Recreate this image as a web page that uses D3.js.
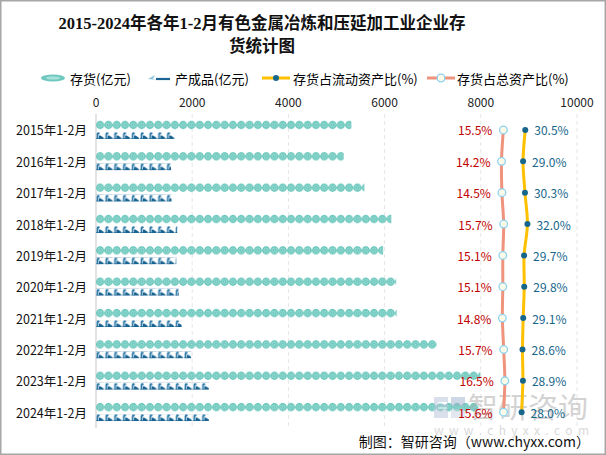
<!DOCTYPE html>
<html><head><meta charset="utf-8">
<script src="https://cdn.jsdelivr.net/npm/d3@7"></script>
<style>
html,body{margin:0;padding:0;background:#fff;}
svg{display:block;}
text{font-family:"Noto Sans CJK SC","Noto Sans",sans-serif;}
</style></head>
<body>
<script>
const categories = ["2015年1-2月","2016年1-2月","2017年1-2月","2018年1-2月","2019年1-2月","2020年1-2月","2021年1-2月","2022年1-2月","2023年1-2月","2024年1-2月"];
const inventory = [5310, 5150, 5580, 6140, 5970, 6240, 6250, 7080, 7990, 7950];
const finishedGoods = [1640, 1560, 1570, 1690, 1670, 1720, 1780, 1980, 2350, 2350];
const ratioCurrent = [30.5, 29.0, 30.3, 32.0, 29.7, 29.8, 29.1, 28.6, 28.9, 28.0];
const ratioTotal = [15.5, 14.2, 14.5, 15.7, 15.1, 15.1, 14.8, 15.7, 16.5, 15.6];
const xTicks = [0, 2000, 4000, 6000, 8000, 10000];
const legendNames = ["存货(亿元)", "产成品(亿元)", "存货占流动资产比(%)", "存货占总资产比(%)"];

(function(){
const W = 606, H = 455;
const svg = d3.select("body").append("svg").attr("width", W).attr("height", H);
svg.append("rect").attr("x",0.75).attr("y",0.75).attr("width",W-1.5).attr("height",H-1.5)
  .attr("fill","#fff").attr("stroke","#a6a6a6").attr("stroke-width",1.5);

const defs = svg.append("defs");
const cs = 8.3;
const pInv = defs.append("pattern").attr("id","pInv").attr("patternUnits","userSpaceOnUse")
  .attr("x",0).attr("y",0).attr("width",cs).attr("height",cs);
pInv.append("circle").attr("cx",cs/2).attr("cy",cs/2).attr("r",cs/2-0.1).attr("fill","#5ec2b7");
pInv.append("circle").attr("cx",cs/2).attr("cy",cs/2).attr("r",2.4).attr("fill","none").attr("stroke","#a9e1d9").attr("stroke-width",0.9);
pInv.append("circle").attr("cx",cs/2).attr("cy",cs/2).attr("r",0.9).attr("fill","#a9e1d9");
const fw = 8.8, fh = 7;
const pFin = defs.append("pattern").attr("id","pFin").attr("patternUnits","userSpaceOnUse")
  .attr("x",0).attr("y",0).attr("width",fw).attr("height",fh);
pFin.append("path").attr("d","M0.6,7 L0.6,2 Q0.6,0.2 2.4,0.2 Q4,0.2 3.8,1.8 L2.3,2.8 L2.3,7 Z").attr("fill","#2a78a8");
pFin.append("path").attr("d","M2.9,3.4 L4.3,3.4 L7.4,5.4 L7.4,7 L2.9,7 Z").attr("fill","#15618f");
pFin.append("rect").attr("x",0).attr("y",6.3).attr("width",fw-0.6).attr("height",0.7).attr("fill","#15618f");

const x = d3.scaleLinear().domain([0, 10000]).range([96, 577]);
const y = d3.scaleBand().domain(categories).range([114.3, 427.8]);
const xr = d3.scaleLinear().domain([0, 66]).range([x(8000), x(10000)]);

const gTop = 114, gBot = 428;
svg.append("g").selectAll("line").data(xTicks.slice(1)).join("line")
  .attr("x1", d => x(d)).attr("x2", d => x(d)).attr("y1", gTop).attr("y2", gBot)
  .attr("stroke","#e6e6e6").attr("stroke-width",1).attr("stroke-dasharray","4,3");
svg.append("line").attr("x1",x(0)).attr("x2",x(0)).attr("y1",gTop).attr("y2",gBot)
  .attr("stroke","#d0d0d0").attr("stroke-width",1.2);

svg.append("g").selectAll("text").data(xTicks).join("text")
  .attr("x", d => x(d)).attr("y", 101).attr("text-anchor","middle").attr("dominant-baseline","central")
  .attr("font-size",12).attr("fill","#222").text(d => d);

svg.append("g").selectAll("text").data(categories).join("text")
  .attr("x", 87).attr("y", d => y(d) + y.bandwidth()/2).attr("text-anchor","end").attr("dominant-baseline","central")
  .attr("font-size",12.5).attr("fill","#111").text(d => d);

const invG = svg.append("g");
categories.forEach((c, i) => {
  const cy = y(c) + y.bandwidth()/2;
  invG.append("g").attr("transform", `translate(${x(0)},${cy - 5 - cs/2})`)
    .append("rect").attr("x",0).attr("y",0).attr("width", x(inventory[i]) - x(0)).attr("height", cs)
    .attr("fill","url(#pInv)");
  invG.append("g").attr("transform", `translate(${x(0)},${cy + 5.5 - fh/2})`)
    .append("rect").attr("x",0).attr("y",0).attr("width", x(finishedGoods[i]) - x(0)).attr("height", fh)
    .attr("fill","url(#pFin)");
});

const wm = svg.append("g").attr("opacity",0.5);
wm.append("rect").attr("x",434).attr("y",397).attr("width",14).attr("height",21).attr("fill","#b7c3d9");
wm.append("rect").attr("x",451).attr("y",397).attr("width",14).attr("height",9).attr("fill","#9fb0cc");
wm.append("rect").attr("x",451).attr("y",409).attr("width",14).attr("height",9).attr("fill","#c8d1e2");
wm.append("rect").attr("x",438).attr("y",402).attr("width",9).attr("height",2).attr("fill","#fff");
wm.append("rect").attr("x",438).attr("y",407).attr("width",9).attr("height",2).attr("fill","#fff");
wm.append("text").attr("x",468).attr("y",406).attr("dominant-baseline","central").attr("font-size",28)
  .attr("fill","#a8a8a8").attr("textLength",120).attr("lengthAdjust","spacingAndGlyphs").text("智研咨询");
wm.append("text").attr("x",434).attr("y",429).attr("dominant-baseline","central").attr("font-size",12)
  .attr("fill","#b5b5b5").attr("textLength",155).attr("lengthAdjust","spacing").text("w w w . c h y x x . c o m");

const cyOf = i => y(categories[i]) + y.bandwidth()/2;
const lineGen = d3.line().curve(d3.curveCatmullRom.alpha(0.5));
svg.append("path").attr("d", lineGen(ratioTotal.map((v,i) => [xr(v), cyOf(i)])))
  .attr("fill","none").attr("stroke","#ef937c").attr("stroke-width",3);
svg.append("path").attr("d", lineGen(ratioCurrent.map((v,i) => [xr(v), cyOf(i)])))
  .attr("fill","none").attr("stroke","#ffc000").attr("stroke-width",3);
svg.append("g").selectAll("circle").data(ratioTotal).join("circle")
  .attr("cx", d => xr(d)).attr("cy", (d,i) => cyOf(i)).attr("r",3.8)
  .attr("fill","#fdfbe8").attr("stroke","#8ad2f0").attr("stroke-width",1.3);
svg.append("g").selectAll("circle").data(ratioCurrent).join("circle")
  .attr("cx", d => xr(d)).attr("cy", (d,i) => cyOf(i)).attr("r",3)
  .attr("fill","#17668c");
svg.append("g").selectAll("text").data(ratioTotal).join("text")
  .attr("x", d => xr(d) - 11).attr("y", (d,i) => cyOf(i)).attr("text-anchor","end").attr("dominant-baseline","central")
  .attr("font-size",12).attr("fill","#c00000").text(d => d.toFixed(1) + "%");
svg.append("g").selectAll("text").data(ratioCurrent).join("text")
  .attr("x", d => xr(d) + 9).attr("y", (d,i) => cyOf(i)).attr("text-anchor","start").attr("dominant-baseline","central")
  .attr("font-size",12).attr("fill","#17668c").text(d => d.toFixed(1) + "%");

const title = svg.append("text").attr("text-anchor","middle").attr("font-weight","bold").attr("font-size",16.5)
  .attr("fill","#111").style("font-family","'Liberation Serif','Noto Sans CJK SC',serif");
title.append("tspan").attr("x",262).attr("y",29).text("2015-2024年各年1-2月有色金属冶炼和压延加工业企业存");
title.append("tspan").attr("x",262).attr("y",52).text("货统计图");

const lg = svg.append("g");
const ly = 78;
lg.append("ellipse").attr("cx",53).attr("cy",ly).attr("rx",12).attr("ry",3.6).attr("fill","#6fc8be");
lg.append("ellipse").attr("cx",53).attr("cy",ly).attr("rx",7).attr("ry",1.6).attr("fill","#a9e1d9");
lg.append("text").attr("x",70).attr("y",ly).attr("dominant-baseline","central").attr("font-size",13).text(legendNames[0]);
lg.append("path").attr("d",`M148,${ly+1} L155,${ly-3} L153,${ly+1} L158,${ly+2} Z`).attr("fill","#8fc6df");
lg.append("line").attr("x1",156).attr("x2",170).attr("y1",ly+1).attr("y2",ly+1).attr("stroke","#1b6493").attr("stroke-width",2.2);
lg.append("text").attr("x",175).attr("y",ly).attr("dominant-baseline","central").attr("font-size",13).text(legendNames[1]);
lg.append("line").attr("x1",262).attr("x2",290).attr("y1",ly).attr("y2",ly).attr("stroke","#ffc000").attr("stroke-width",3);
lg.append("circle").attr("cx",276).attr("cy",ly).attr("r",3).attr("fill","#17668c");
lg.append("text").attr("x",293).attr("y",ly).attr("dominant-baseline","central").attr("font-size",13).text(legendNames[2]);
lg.append("line").attr("x1",427).attr("x2",455).attr("y1",ly).attr("y2",ly).attr("stroke","#ef937c").attr("stroke-width",3);
lg.append("circle").attr("cx",441).attr("cy",ly).attr("r",3.8).attr("fill","#fdfbe8").attr("stroke","#8ad2f0").attr("stroke-width",1.3);
lg.append("text").attr("x",457).attr("y",ly).attr("dominant-baseline","central").attr("font-size",13).text(legendNames[3]);

svg.append("text").attr("x",590).attr("y",441).attr("text-anchor","end").attr("dominant-baseline","central")
  .attr("font-size",14).attr("fill","#111").text("制图：智研咨询（www.chyxx.com）");
})();
</script>
</body></html>
